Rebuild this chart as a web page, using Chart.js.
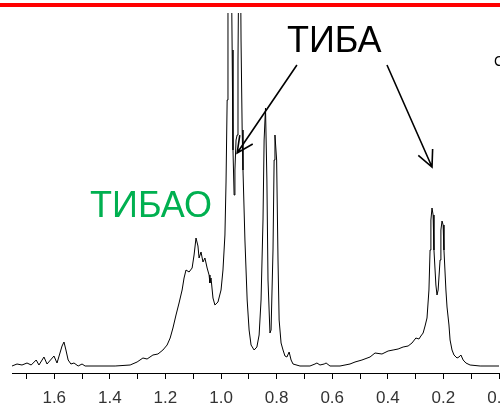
<!DOCTYPE html>
<html>
<head>
<meta charset="utf-8">
<script src="https://cdn.jsdelivr.net/npm/chart.js@4/dist/chart.umd.min.js"></script>
<style>
  html, body { margin: 0; padding: 0; background: #fff; overflow: hidden; width: 500px; height: 407px; }
  canvas { display: block; }
</style>
</head>
<body>
<canvas id="espectro" width="512" height="407"></canvas>
<script>
const ppm = [
  1.752, 1.734, 1.716, 1.698, 1.683, 1.665, 1.655, 1.637, 1.626, 1.601,
  1.590, 1.572, 1.565, 1.558, 1.550, 1.540, 1.529, 1.514, 1.500, 1.489,
  1.381, 1.327, 1.302, 1.281, 1.266, 1.245, 1.227, 1.209, 1.194, 1.183,
  1.173, 1.162, 1.151, 1.140, 1.133, 1.126, 1.115, 1.104, 1.097, 1.090,
  1.083, 1.079, 1.072, 1.065, 1.058, 1.050, 1.043, 1.040, 1.036, 1.029,
  1.022, 1.011, 1.000, 0.993, 0.986, 0.982, 0.978, 0.975, 0.968, 0.960,
  0.957, 0.953, 0.950, 0.946, 0.942, 0.939, 0.933, 0.928, 0.924, 0.921,
  0.914, 0.906, 0.899, 0.892, 0.881, 0.871, 0.863, 0.856, 0.849, 0.845,
  0.840, 0.835, 0.831, 0.824, 0.820, 0.813, 0.809, 0.806, 0.800, 0.795,
  0.791, 0.784, 0.777, 0.770, 0.763, 0.755, 0.748, 0.741, 0.716, 0.680,
  0.662, 0.655, 0.644, 0.629, 0.622, 0.608, 0.572, 0.536, 0.518, 0.493,
  0.464, 0.446, 0.421, 0.399, 0.381, 0.363, 0.345, 0.327, 0.313, 0.299,
  0.288, 0.281, 0.273, 0.266, 0.259, 0.252, 0.248, 0.245, 0.241, 0.237,
  0.234, 0.227, 0.223, 0.219, 0.212, 0.209, 0.205, 0.201, 0.198, 0.191,
  0.187, 0.180, 0.176, 0.169, 0.162, 0.151, 0.144, 0.137, 0.129, 0.119,
  0.104, 0.068, 0.000
];
const intensidad = [
  0, 2, 1, 3, 1, 6, 1, 9, 2, 10,
  3, 20, 24, 16, 6, 2, 3, 0, 2, 0,
  0, 1, 4, 8, 7, 11, 12, 16, 21, 28,
  38, 51, 63, 76, 88, 96, 94, 98, 111, 128,
  120, 108, 114, 104, 108, 98, 91, 83, 88, 68,
  61, 64, 76, 96, 131, 184, 266, 380, 560, 316,
  216, 171, 196, 226, 231, 306, 520, 326, 236, 196,
  126, 66, 36, 21, 16, 19, 31, 66, 146, 226,
  258, 186, 86, 33, 36, 116, 206, 231, 206, 106,
  46, 23, 16, 10, 9, 14, 6, 2, 0, 0,
  2, 3, 1, 2, 3, 0, 0, 2, 4, 6,
  9, 13, 12, 15, 16, 17, 19, 20, 23, 28,
  27, 30, 33, 40, 48, 76, 116, 146, 158, 151,
  116, 81, 71, 76, 106, 136, 145, 141, 116, 76,
  59, 41, 26, 16, 11, 8, 9, 11, 6, 3,
  1, 0, 0
];
const etiquetasX = ['1.6', '1.4', '1.2', '1.0', '0.8', '0.6', '0.4', '0.2', '0.0'];

// rótulos y flechas (en coordenadas de datos)
const textos = [
  { texto: 'ТИБА', x: 0.763, y: 314, color: '#000', size: 36 },
  { texto: 'ТИБАО', x: 1.471, y: 149, color: '#00b050', size: 36 },
  { texto: 'С', x: 0.018, y: 300, color: '#000', size: 14 }
];
const flechas = [
  { x1: 0.727, y1: 301, x2: 0.942, y2: 213 },
  { x1: 0.403, y1: 301, x2: 0.241, y2: 199 }
];

const puntos = ppm.map((p, i) => ({ x: p, y: intensidad[i] }));

const anotaciones = {
  id: 'anotaciones',
  afterDraw(chart) {
    const ctx = chart.ctx;
    const sx = chart.scales.x, sy = chart.scales.y;
    ctx.save();
    // barra roja superior
    ctx.fillStyle = '#ff0000';
    ctx.fillRect(0, 3, 512, 4);

    ctx.textBaseline = 'alphabetic';
    ctx.textAlign = 'left';
    textos.forEach(t => {
      ctx.font = t.size + 'px "Liberation Sans", Arial, sans-serif';
      ctx.fillStyle = t.color;
      ctx.fillText(t.texto, sx.getPixelForValue(t.x), sy.getPixelForValue(t.y));
    });

    ctx.strokeStyle = '#000';
    ctx.lineWidth = 1.6;
    flechas.forEach(f => {
      const x1 = sx.getPixelForValue(f.x1), y1 = sy.getPixelForValue(f.y1);
      const x2 = sx.getPixelForValue(f.x2), y2 = sy.getPixelForValue(f.y2);
      const ang = Math.atan2(y2 - y1, x2 - x1);
      const largo = 18, abre = 0.45;
      ctx.beginPath();
      ctx.moveTo(x1, y1);
      ctx.lineTo(x2, y2);
      ctx.moveTo(x2 - largo * Math.cos(ang - abre), y2 - largo * Math.sin(ang - abre));
      ctx.lineTo(x2, y2);
      ctx.lineTo(x2 - largo * Math.cos(ang + abre), y2 - largo * Math.sin(ang + abre));
      ctx.stroke();
    });
    ctx.restore();
  }
};

new Chart(document.getElementById('espectro'), {
  type: 'line',
  data: {
    datasets: [{
      data: puntos,
      borderColor: '#000',
      borderWidth: 1,
      pointRadius: 0,
      tension: 0,
      fill: false
    }]
  },
  options: {
    responsive: false,
    animation: false,
    layout: { padding: { left: 12, top: 13, right: 13, bottom: 0 } },
    plugins: { legend: { display: false }, tooltip: { enabled: false } },
    scales: {
      x: {
        type: 'linear',
        reverse: true,
        min: 0,
        max: 1.752,
        afterFit: (escala) => {
          // el eje ocupa desde y=373 hasta el borde inferior
          escala.height = 34;
          escala.paddingLeft = 0;
          escala.paddingRight = 0;
        },
        border: { display: true, color: '#000', width: 1 },
        grid: { display: true, drawOnChartArea: false, drawTicks: true, tickLength: 6, color: '#000' },
        ticks: {
          stepSize: 0.1,
          includeBounds: false,
          autoSkip: false,
          maxRotation: 0,
          padding: 9,
          color: '#333',
          font: { family: '"Liberation Sans", Arial, sans-serif', size: 17 },
          callback: (v) => {
            const k = Math.round(v * 10);
            if (k % 2 !== 0) return '';
            const etiqueta = (k / 10).toFixed(1);
            return etiquetasX.includes(etiqueta) ? etiqueta : '';
          }
        }
      },
      y: {
        display: false,
        min: -7,
        max: 353
      }
    }
  },
  plugins: [anotaciones]
});
</script>
</body>
</html>
